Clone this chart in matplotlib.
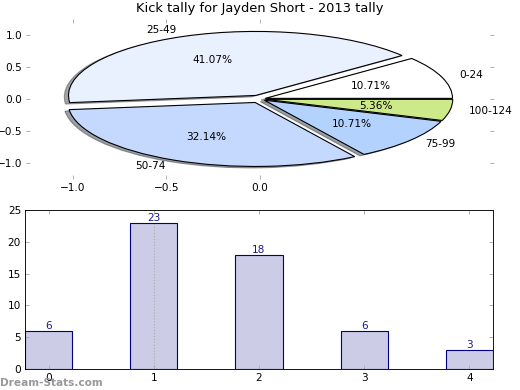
import matplotlib
matplotlib.use("Agg")
from matplotlib import pyplot as plt

labels = ["0-24", "25-49", "50-74", "75-99", "100-124"]
counts = [6, 23, 18, 6, 3]
pie_colors = ["#ffffff", "#eaf1fe", "#c5d8fd", "#b3d3fe", "#cdea8a"]
explode = [0.03, 0.06, 0.06, 0.03, 0.03]
positions = list(range(len(counts)))

fig = plt.figure(figsize=(6.5, 4.875), dpi=80)

# pie on top
ax1 = fig.add_axes([26/520, 1 - 179/390, 468/520, 160/390])
ax1.pie(counts, labels=labels, colors=pie_colors, explode=explode,
        autopct="%.2f%%", shadow=True, startangle=0,
        wedgeprops={"edgecolor": "black", "linewidth": 1},
        textprops={"fontsize": 9.5})
ax1.set_aspect("auto")
ax1.set_frame_on(False)
ax1.set_xlim(-1.25, 1.25)
ax1.set_ylim(-1.25, 1.25)
ax1.set_xticks([-1.0, -0.5, 0.0])
ax1.set_yticks([-1.0, -0.5, 0.0, 0.5, 1.0])
ax1.tick_params(direction="in", color="#aaaaaa", labelsize=9.5, length=4,
                top=True, right=True)
ax1.set_title("Kick tally for Jayden Short - 2013 tally", fontsize=11.7)

# bars below
ax2 = fig.add_axes([25/520, 1 - 369/390, 468/520, 159/390])
ax2.bar(positions, counts, width=0.45, color="#ccccE6", edgecolor="#000080",
        linewidth=1)
ax2.vlines(positions[counts.index(max(counts))], 0, max(counts),
           colors="#aaaaaa", linestyles=":", linewidth=1)
for p, c in zip(positions, counts):
    ax2.text(p, c, str(c), ha="center", va="bottom", fontsize=9.5,
             color="#1a1a8c", linespacing=0.8)
ax2.set_xlim(-0.225, 4.225)
ax2.set_ylim(0, 25)
ax2.set_xticks(positions)
ax2.tick_params(direction="in", color="#aaaaaa", labelsize=9.5, length=4,
                top=True, right=True)

fig.text(0.0, 0.01, "Dream-Stats.com", fontsize=9.5, color="#999999",
         fontweight="bold")

plt.savefig("out.png", dpi=80)
